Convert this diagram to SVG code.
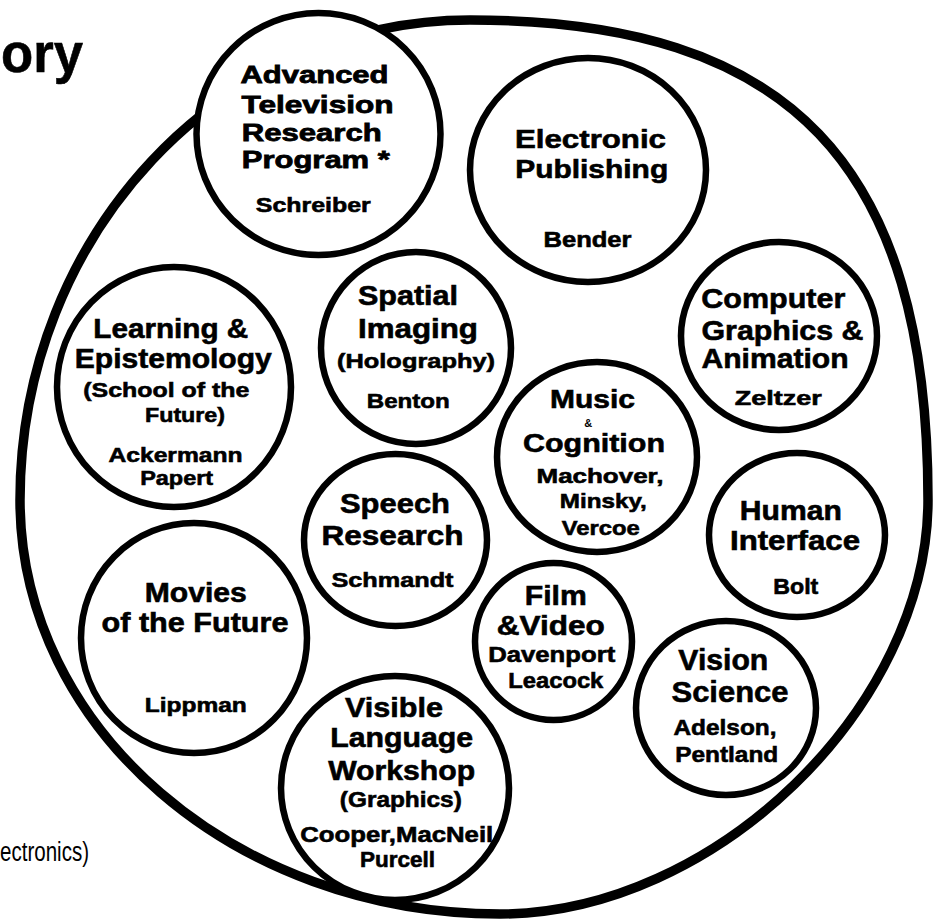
<svg xmlns="http://www.w3.org/2000/svg" width="935" height="923" viewBox="0 0 935 923">
<style>
.bg{fill:#fff}
.outline{fill:none;stroke:#000;stroke-width:9.5}
.node{fill:#fff;stroke:#000;stroke-width:6.5}
text{font-family:"Liberation Sans",Arial,Helvetica,sans-serif;font-weight:bold;text-anchor:middle;fill:#000}
.h,.n{stroke:#000;stroke-width:0.6}
.h{font-size:27px}
.n{font-size:21px}
.title{font-size:56px;text-anchor:start;stroke:#000;stroke-width:0.6}
.side{font-size:27px;font-weight:normal;text-anchor:start}
</style>
<rect class="bg" x="0" y="0" width="935" height="923"/>
<text class="title" x="1" y="72" textLength="82" lengthAdjust="spacingAndGlyphs">ory</text>
<text class="side" x="0" y="861" textLength="89" lengthAdjust="spacingAndGlyphs">ectronics)</text>
<g id="boundary">
<path class="outline" d="M470,20 C790,20 928,164 928,500 C928,707 714,914 500,914 C235,914 20,729 20,500 C20,235 221.5,20 470,20 Z"/>
</g>
<g id="atv">
<ellipse class="node" cx="318.5" cy="134" rx="122" ry="121"/>
<text class="h" style="font-size:24px;stroke-width:0.8" x="314.5" y="83" textLength="148" lengthAdjust="spacingAndGlyphs">Advanced</text>
<text class="h" style="font-size:24px;stroke-width:0.8" x="317.5" y="113" textLength="152" lengthAdjust="spacingAndGlyphs">Television</text>
<text class="h" style="font-size:24px;stroke-width:0.8" x="311.7" y="141" textLength="140" lengthAdjust="spacingAndGlyphs">Research</text>
<text class="h" style="font-size:24px;stroke-width:0.8" x="315.8" y="168" textLength="148" lengthAdjust="spacingAndGlyphs">Program *</text>
<text class="n" x="313.3" y="212" textLength="115" lengthAdjust="spacingAndGlyphs">Schreiber</text>
</g>
<g id="electronic-publishing">
<ellipse class="node" cx="588" cy="170" rx="118" ry="112"/>
<text class="h" style="font-size:26px" x="590.5" y="148" textLength="151" lengthAdjust="spacingAndGlyphs">Electronic</text>
<text class="h" style="font-size:26px" x="591.7" y="178" textLength="153" lengthAdjust="spacingAndGlyphs">Publishing</text>
<text class="n" style="font-size:22px" x="587.5" y="247" textLength="88" lengthAdjust="spacingAndGlyphs">Bender</text>
</g>
<g id="learning">
<ellipse class="node" cx="174" cy="387" rx="117" ry="120"/>
<text class="h" style="font-size:28px" x="170.8" y="338" textLength="155" lengthAdjust="spacingAndGlyphs">Learning &amp;</text>
<text class="h" style="font-size:28px" x="173.3" y="368" textLength="197" lengthAdjust="spacingAndGlyphs">Epistemology</text>
<text class="n" x="166.3" y="397" textLength="166" lengthAdjust="spacingAndGlyphs">(School of the</text>
<text class="n" x="185" y="422" textLength="80" lengthAdjust="spacingAndGlyphs">Future)</text>
<text class="n" x="175.5" y="462" textLength="134" lengthAdjust="spacingAndGlyphs">Ackermann</text>
<text class="n" x="176.7" y="485" textLength="73" lengthAdjust="spacingAndGlyphs">Papert</text>
</g>
<g id="spatial-imaging">
<ellipse class="node" cx="416" cy="348" rx="95" ry="96"/>
<text class="h" x="408" y="305" textLength="100" lengthAdjust="spacingAndGlyphs">Spatial</text>
<text class="h" x="418" y="338" textLength="120" lengthAdjust="spacingAndGlyphs">Imaging</text>
<text class="n" x="416" y="368" textLength="158" lengthAdjust="spacingAndGlyphs">(Holography)</text>
<text class="n" x="408.3" y="408" textLength="83" lengthAdjust="spacingAndGlyphs">Benton</text>
</g>
<g id="computer-graphics">
<ellipse class="node" cx="779" cy="336" rx="98" ry="94"/>
<text class="h" style="font-size:28px" x="773.3" y="308" textLength="144" lengthAdjust="spacingAndGlyphs">Computer</text>
<text class="h" style="font-size:28px" x="782.5" y="340" textLength="162" lengthAdjust="spacingAndGlyphs">Graphics &amp;</text>
<text class="h" style="font-size:28px" x="775" y="368" textLength="147" lengthAdjust="spacingAndGlyphs">Animation</text>
<text class="n" x="778.3" y="405" textLength="87" lengthAdjust="spacingAndGlyphs">Zeltzer</text>
</g>
<g id="music-cognition">
<ellipse class="node" cx="597" cy="457" rx="100" ry="95"/>
<text class="h" style="font-size:26px" x="592.5" y="408" textLength="85" lengthAdjust="spacingAndGlyphs">Music</text>
<text style="font-size:11px" x="588.3" y="427">&amp;</text>
<text class="h" style="font-size:26px" x="594" y="452" textLength="142" lengthAdjust="spacingAndGlyphs">Cognition</text>
<text class="n" x="600" y="483" textLength="127" lengthAdjust="spacingAndGlyphs">Machover,</text>
<text class="n" x="603.3" y="508" textLength="87" lengthAdjust="spacingAndGlyphs">Minsky,</text>
<text class="n" x="600.8" y="535" textLength="78" lengthAdjust="spacingAndGlyphs">Vercoe</text>
</g>
<g id="human-interface">
<ellipse class="node" cx="797" cy="535" rx="88" ry="82"/>
<text class="h" x="790.8" y="520" textLength="102" lengthAdjust="spacingAndGlyphs">Human</text>
<text class="h" x="795" y="550" textLength="130" lengthAdjust="spacingAndGlyphs">Interface</text>
<text class="n" style="font-size:22px" x="795.8" y="594" textLength="45" lengthAdjust="spacingAndGlyphs">Bolt</text>
</g>
<g id="speech-research">
<ellipse class="node" cx="395.5" cy="540" rx="91.5" ry="86"/>
<text class="h" style="font-size:28px" x="395" y="513" textLength="110" lengthAdjust="spacingAndGlyphs">Speech</text>
<text class="h" style="font-size:28px" x="392.5" y="545" textLength="142" lengthAdjust="spacingAndGlyphs">Research</text>
<text class="n" x="392.5" y="587" textLength="122" lengthAdjust="spacingAndGlyphs">Schmandt</text>
</g>
<g id="film-video">
<ellipse class="node" cx="553.5" cy="641.5" rx="78.5" ry="78.5"/>
<text class="h" style="font-size:28px" x="555.8" y="605" textLength="62" lengthAdjust="spacingAndGlyphs">Film</text>
<text class="h" style="font-size:28px" x="550.8" y="635" textLength="108" lengthAdjust="spacingAndGlyphs">&amp;Video</text>
<text class="n" style="font-size:22px" x="551.7" y="662" textLength="127" lengthAdjust="spacingAndGlyphs">Davenport</text>
<text class="n" style="font-size:22px" x="555.8" y="688" textLength="95" lengthAdjust="spacingAndGlyphs">Leacock</text>
</g>
<g id="vision-science">
<ellipse class="node" cx="726" cy="708" rx="90" ry="87"/>
<text class="h" style="font-size:29px" x="723.3" y="670" textLength="90" lengthAdjust="spacingAndGlyphs">Vision</text>
<text class="h" style="font-size:29px" x="730" y="702" textLength="117" lengthAdjust="spacingAndGlyphs">Science</text>
<text class="n" style="font-size:22px" x="725" y="735" textLength="103" lengthAdjust="spacingAndGlyphs">Adelson,</text>
<text class="n" style="font-size:22px" x="726.7" y="762" textLength="103" lengthAdjust="spacingAndGlyphs">Pentland</text>
</g>
<g id="movies-future">
<ellipse class="node" cx="194" cy="638" rx="113" ry="115"/>
<text class="h" x="195.8" y="602" textLength="102" lengthAdjust="spacingAndGlyphs">Movies</text>
<text class="h" x="195" y="632" textLength="187" lengthAdjust="spacingAndGlyphs">of the Future</text>
<text class="n" x="195.8" y="712" textLength="102" lengthAdjust="spacingAndGlyphs">Lippman</text>
</g>
<g id="visible-language">
<ellipse class="node" cx="395" cy="788" rx="114" ry="112"/>
<text class="h" style="font-size:28px" x="394" y="717" textLength="98" lengthAdjust="spacingAndGlyphs">Visible</text>
<text class="h" style="font-size:28px" x="401.7" y="747" textLength="143" lengthAdjust="spacingAndGlyphs">Language</text>
<text class="h" style="font-size:28px" x="401.7" y="780" textLength="147" lengthAdjust="spacingAndGlyphs">Workshop</text>
<text class="n" style="font-size:22px" x="400.8" y="807" textLength="122" lengthAdjust="spacingAndGlyphs">(Graphics)</text>
<text class="n" style="font-size:22px" x="396.7" y="842" textLength="193" lengthAdjust="spacingAndGlyphs">Cooper,MacNeil</text>
<text class="n" style="font-size:22px" x="397.5" y="867" textLength="75" lengthAdjust="spacingAndGlyphs">Purcell</text>
</g>
</svg>
